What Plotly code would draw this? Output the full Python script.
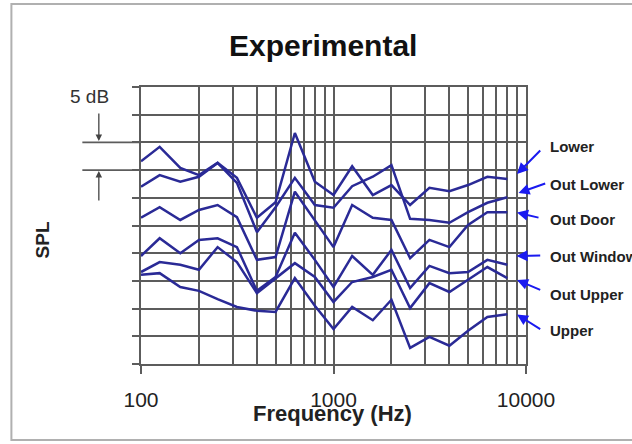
import plotly.graph_objects as go

freq = [100, 125, 160, 200, 250, 315, 400, 500, 630, 800, 1000, 1250, 1600, 2000,
        2500, 3150, 4000, 5000, 6300, 8000]

lower      = [36.6, 39.2, 35.4, 34.1, 36.3, 33.6, 26.4, 29.2, 41.7, 32.9, 30.5, 35.7, 30.5, 32.3, 28.7, 31.8, 31.2, 32.3, 33.8, 33.4]
out_lower  = [32.0, 34.1, 32.9, 33.8, 36.3, 32.7, 23.8, 28.3, 33.6, 28.7, 28.2, 32.1, 33.8, 35.9, 26.2, 26.0, 25.5, 27.4, 29.1, 30.1]
out_door   = [26.4, 28.3, 26.0, 27.8, 28.7, 26.5, 18.8, 19.3, 31.1, 26.0, 21.1, 28.7, 26.4, 26.0, 19.1, 22.4, 21.1, 25.1, 27.4, 27.4]
out_window = [19.5, 22.7, 20.0, 22.4, 22.7, 21.1, 13.2, 15.7, 23.7, 18.8, 13.9, 19.5, 16.1, 20.6, 13.7, 17.7, 16.4, 16.6, 18.8, 17.9]
out_upper  = [16.6, 18.4, 17.9, 17.0, 21.1, 18.4, 12.8, 15.5, 18.2, 15.7, 11.2, 14.8, 15.7, 17.0, 10.1, 14.6, 13.0, 15.2, 17.5, 15.5]
upper      = [16.1, 16.4, 13.9, 13.2, 11.7, 10.3, 9.6, 9.4, 15.5, 10.5, 6.3, 10.3, 7.9, 11.6, 2.9, 4.9, 3.3, 6.0, 8.5, 9.0]

series_names = ["Lower", "Out Lower", "Out Door", "Out Window", "Out Upper", "Upper"]
series_vals = [lower, out_lower, out_door, out_window, out_upper, upper]

major_ticks = [100, 1000, 10000]
major_text = ["100", "1000", "10000"]
minor_ticks = [200, 300, 400, 500, 600, 700, 800, 900,
               2000, 3000, 4000, 5000, 6000, 7000, 8000, 9000]

FONT = "Arial, Liberation Sans, sans-serif"
LINE = "#2A2A96"
GRID = "#5c5c5c"
ARROW = "#1A1AF0"

fig = go.Figure()
for name, vals in zip(series_names, series_vals):
    fig.add_trace(go.Scatter(x=freq, y=vals, mode="lines", name=name,
                             line=dict(color=LINE, width=2.5), showlegend=False))

W = 385.3
H = 277.0
def px(x):
    return (x - 140.7) / W
def py(y):
    return (364 - y) / H

fig.update_layout(
    width=632, height=444,
    margin=dict(l=141, r=106, t=87, b=80, autoexpand=False),
    paper_bgcolor="white", plot_bgcolor="white",
    font=dict(family=FONT, color="#222"),
    xaxis=dict(type="log", range=[2, 4], tickvals=major_ticks, ticktext=major_text,
               ticks="outside", ticklen=8, tickwidth=1.6, tickcolor=GRID,
               showgrid=True, gridcolor=GRID, gridwidth=1.6,
               showline=True, linecolor=GRID, linewidth=1.6, mirror=True,
               tickfont=dict(size=21, color="#222"), ticklabelstandoff=8,
               minor=dict(tickvals=minor_ticks, showgrid=True, gridcolor=GRID,
                          gridwidth=1.6, ticks=""),
               zeroline=False),
    yaxis=dict(range=[0, 50], dtick=5, tick0=0, showticklabels=False,
               ticks="outside", ticklen=7, tickwidth=1.6, tickcolor=GRID,
               showgrid=True, gridcolor=GRID, gridwidth=1.6,
               showline=True, linecolor=GRID, linewidth=1.6, mirror=True,
               zeroline=False),
)

shapes = [
    dict(type="rect", xref="paper", yref="paper", x0=px(11), x1=px(660), y0=py(440), y1=py(4),
         line=dict(color="#b0b0b0", width=2)),
    dict(type="line", xref="paper", yref="y", x0=px(82), x1=0, y0=40, y1=40,
         line=dict(color=GRID, width=1.6)),
    dict(type="line", xref="paper", yref="y", x0=px(82), x1=0, y0=35, y1=35,
         line=dict(color=GRID, width=1.6)),
]
fig.update_layout(shapes=shapes)

ann = []
ann.append(dict(text="<b>Experimental</b>", xref="paper", yref="paper", x=px(323), y=py(45),
                showarrow=False, font=dict(size=30, color="#111"), xanchor="center", yanchor="middle"))
ann.append(dict(text="<b>Frequency (Hz)</b>", xref="paper", yref="paper", x=px(332), y=py(413),
                showarrow=False, font=dict(size=22, color="#222"), xanchor="center", yanchor="middle"))
ann.append(dict(text="<b>SPL</b>", xref="paper", yref="paper", x=px(42), y=py(240), textangle=-90,
                showarrow=False, font=dict(size=19, color="#222"), xanchor="center", yanchor="middle"))
ann.append(dict(text="5 dB", xref="paper", yref="paper", x=px(89), y=py(96),
                showarrow=False, font=dict(size=19, color="#333"), xanchor="center", yanchor="middle"))
# 5 dB arrows
ann.append(dict(text="", xref="paper", yref="paper", x=px(98.5), y=py(141), ax=0, ay=-29,
                showarrow=True, arrowhead=2, arrowsize=1, arrowwidth=1.3, arrowcolor="#444"))
ann.append(dict(text="", xref="paper", yref="paper", x=px(98.5), y=py(171), ax=0, ay=31,
                showarrow=True, arrowhead=2, arrowsize=1, arrowwidth=1.3, arrowcolor="#444"))

label_pos = [
    ("Lower", 146, (541.7, 149), (517, 174)),
    ("Out Lower", 184, (546.7, 183), (518.5, 193)),
    ("Out Door", 219, (540, 218), (517, 212.5)),
    ("Out Window", 256, (541.7, 255.5), (516.5, 256)),
    ("Out Upper", 294, (541.7, 290.5), (517, 280)),
    ("Upper", 330, (541.7, 330), (517, 314.5)),
]
for text, ly, tail, tip in label_pos:
    ann.append(dict(text="<b>%s</b>" % text, xref="paper", yref="paper", x=px(548), y=py(ly),
                    showarrow=False, font=dict(size=15, color="#222"), xanchor="left", yanchor="middle"))
    ann.append(dict(text="", xref="paper", yref="paper", x=px(tip[0]), y=py(tip[1]),
                    ax=tail[0] - tip[0], ay=tail[1] - tip[1],
                    showarrow=True, arrowhead=2, arrowsize=1.1, arrowwidth=2, arrowcolor=ARROW))
fig.update_layout(annotations=ann)

fig.write_html("out.html", config={"displayModeBar": False},
               post_script="document.body.style.margin='0px';")
